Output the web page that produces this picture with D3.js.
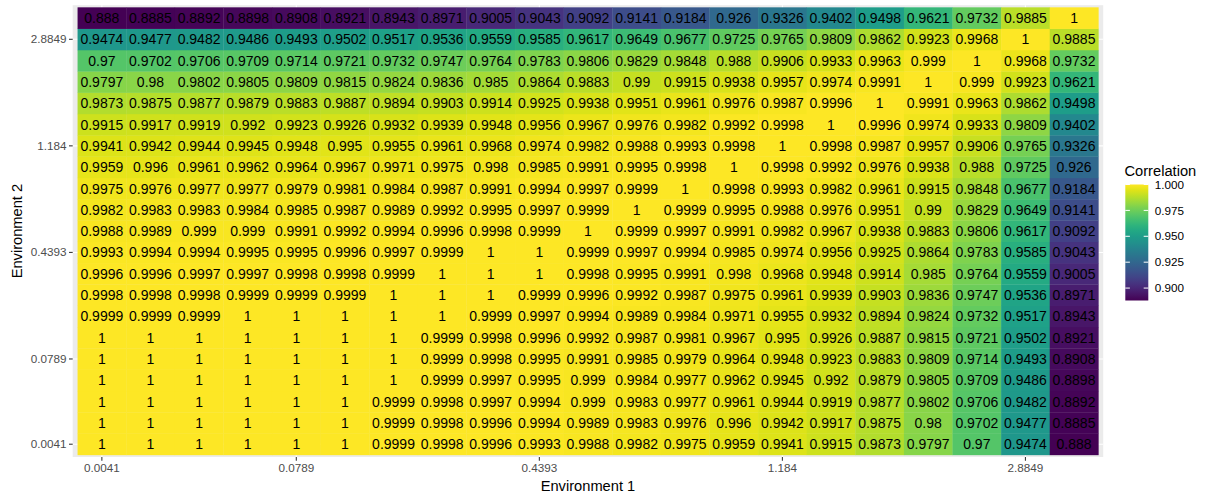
<!DOCTYPE html>
<html>
<head>
<meta charset="utf-8">
<script src="https://cdn.jsdelivr.net/npm/d3@7"></script>
<style>
  html, body { margin: 0; padding: 0; background: #ffffff; }
  svg { display: block; }
</style>
</head>
<body>
<svg id="chart" width="1205" height="498"></svg>
<script>
// Category levels (index of environment grid, bottom/left = 0)
const levels = [0,1,2,3,4,5,6,7,8,9,10,11,12,13,14,15,16,17,18,19,20];
const tickIdx = [0, 4, 9, 14, 19];
const tickLabels = ["0.0041", "0.0789", "0.4393", "1.184", "2.8849"];
const legendBreaks = [0.900, 0.925, 0.950, 0.975, 1.000];

// Correlation rows, listed from top (Environment 2 index 20) to bottom (index 0)
const row20 = [0.888,0.8885,0.8892,0.8898,0.8908,0.8921,0.8943,0.8971,0.9005,0.9043,0.9092,0.9141,0.9184,0.926,0.9326,0.9402,0.9498,0.9621,0.9732,0.9885,1];
const row19 = [0.9474,0.9477,0.9482,0.9486,0.9493,0.9502,0.9517,0.9536,0.9559,0.9585,0.9617,0.9649,0.9677,0.9725,0.9765,0.9809,0.9862,0.9923,0.9968,1,0.9885];
const row18 = [0.97,0.9702,0.9706,0.9709,0.9714,0.9721,0.9732,0.9747,0.9764,0.9783,0.9806,0.9829,0.9848,0.988,0.9906,0.9933,0.9963,0.999,1,0.9968,0.9732];
const row17 = [0.9797,0.98,0.9802,0.9805,0.9809,0.9815,0.9824,0.9836,0.985,0.9864,0.9883,0.99,0.9915,0.9938,0.9957,0.9974,0.9991,1,0.999,0.9923,0.9621];
const row16 = [0.9873,0.9875,0.9877,0.9879,0.9883,0.9887,0.9894,0.9903,0.9914,0.9925,0.9938,0.9951,0.9961,0.9976,0.9987,0.9996,1,0.9991,0.9963,0.9862,0.9498];
const row15 = [0.9915,0.9917,0.9919,0.992,0.9923,0.9926,0.9932,0.9939,0.9948,0.9956,0.9967,0.9976,0.9982,0.9992,0.9998,1,0.9996,0.9974,0.9933,0.9809,0.9402];
const row14 = [0.9941,0.9942,0.9944,0.9945,0.9948,0.995,0.9955,0.9961,0.9968,0.9974,0.9982,0.9988,0.9993,0.9998,1,0.9998,0.9987,0.9957,0.9906,0.9765,0.9326];
const row13 = [0.9959,0.996,0.9961,0.9962,0.9964,0.9967,0.9971,0.9975,0.998,0.9985,0.9991,0.9995,0.9998,1,0.9998,0.9992,0.9976,0.9938,0.988,0.9725,0.926];
const row12 = [0.9975,0.9976,0.9977,0.9977,0.9979,0.9981,0.9984,0.9987,0.9991,0.9994,0.9997,0.9999,1,0.9998,0.9993,0.9982,0.9961,0.9915,0.9848,0.9677,0.9184];
const row11 = [0.9982,0.9983,0.9983,0.9984,0.9985,0.9987,0.9989,0.9992,0.9995,0.9997,0.9999,1,0.9999,0.9995,0.9988,0.9976,0.9951,0.99,0.9829,0.9649,0.9141];
const row10 = [0.9988,0.9989,0.999,0.999,0.9991,0.9992,0.9994,0.9996,0.9998,0.9999,1,0.9999,0.9997,0.9991,0.9982,0.9967,0.9938,0.9883,0.9806,0.9617,0.9092];
const row9  = [0.9993,0.9994,0.9994,0.9995,0.9995,0.9996,0.9997,0.9999,1,1,0.9999,0.9997,0.9994,0.9985,0.9974,0.9956,0.9925,0.9864,0.9783,0.9585,0.9043];
const row8  = [0.9996,0.9996,0.9997,0.9997,0.9998,0.9998,0.9999,1,1,1,0.9998,0.9995,0.9991,0.998,0.9968,0.9948,0.9914,0.985,0.9764,0.9559,0.9005];
const row7  = [0.9998,0.9998,0.9998,0.9999,0.9999,0.9999,1,1,1,0.9999,0.9996,0.9992,0.9987,0.9975,0.9961,0.9939,0.9903,0.9836,0.9747,0.9536,0.8971];
const row6  = [0.9999,0.9999,0.9999,1,1,1,1,1,0.9999,0.9997,0.9994,0.9989,0.9984,0.9971,0.9955,0.9932,0.9894,0.9824,0.9732,0.9517,0.8943];
const row5  = [1,1,1,1,1,1,1,0.9999,0.9998,0.9996,0.9992,0.9987,0.9981,0.9967,0.995,0.9926,0.9887,0.9815,0.9721,0.9502,0.8921];
const row4  = [1,1,1,1,1,1,1,0.9999,0.9998,0.9995,0.9991,0.9985,0.9979,0.9964,0.9948,0.9923,0.9883,0.9809,0.9714,0.9493,0.8908];
const row3  = [1,1,1,1,1,1,1,0.9999,0.9997,0.9995,0.999,0.9984,0.9977,0.9962,0.9945,0.992,0.9879,0.9805,0.9709,0.9486,0.8898];
const row2  = [1,1,1,1,1,1,0.9999,0.9998,0.9997,0.9994,0.999,0.9983,0.9977,0.9961,0.9944,0.9919,0.9877,0.9802,0.9706,0.9482,0.8892];
const row1  = [1,1,1,1,1,1,0.9999,0.9998,0.9996,0.9994,0.9989,0.9983,0.9976,0.996,0.9942,0.9917,0.9875,0.98,0.9702,0.9477,0.8885];
const row0  = [1,1,1,1,1,1,0.9999,0.9998,0.9996,0.9993,0.9988,0.9982,0.9975,0.9959,0.9941,0.9915,0.9873,0.9797,0.97,0.9474,0.888];

const rowsBottomUp = [row0,row1,row2,row3,row4,row5,row6,row7,row8,row9,row10,row11,row12,row13,row14,row15,row16,row17,row18,row19,row20];

const cells = [];
rowsBottomUp.forEach((row, yi) => row.forEach((v, xi) => cells.push({x: levels[xi], y: levels[yi], v})));

const svg = d3.select("#chart");
const font = "'Liberation Sans', Arial, Helvetica, sans-serif";

// panel geometry
const pL = 72.7, pR = 1103.2, pT = 5.2, pB = 457;
const unitX = (pR - pL) / (levels.length + 0.2);
const unitY = (pB - pT) / (levels.length + 0.2);

const x = d3.scaleBand().domain(levels).range([pL + 0.1 * unitX, pR - 0.1 * unitX]).padding(0);
const y = d3.scaleBand().domain(levels).range([pB - 0.1 * unitY, pT + 0.1 * unitY]).padding(0);

const vmin = d3.min(cells, d => d.v), vmax = d3.max(cells, d => d.v);
const color = d3.scaleSequential(d3.interpolateViridis).domain([vmin, vmax]);

// panel background
svg.append("rect").attr("x", pL).attr("y", pT).attr("width", pR - pL).attr("height", pB - pT).attr("fill", "#EBEBEB");

// grid lines
const grid = svg.append("g");
tickIdx.forEach(i => {
  grid.append("line").attr("x1", x(i) + x.bandwidth()/2).attr("x2", x(i) + x.bandwidth()/2)
    .attr("y1", pT).attr("y2", pB).attr("stroke", "#fff").attr("stroke-width", 1.07);
  grid.append("line").attr("y1", y(i) + y.bandwidth()/2).attr("y2", y(i) + y.bandwidth()/2)
    .attr("x1", pL).attr("x2", pR).attr("stroke", "#fff").attr("stroke-width", 1.07);
});

// tiles
svg.append("g").selectAll("rect").data(cells).join("rect")
  .attr("x", d => x(d.x)).attr("y", d => y(d.y))
  .attr("width", x.bandwidth() + 0.3).attr("height", y.bandwidth() + 0.3)
  .attr("fill", d => color(d.v));

// labels
svg.append("g").selectAll("text").data(cells).join("text")
  .attr("x", d => x(d.x) + x.bandwidth()/2)
  .attr("y", d => y(d.y) + y.bandwidth()/2)
  .attr("dy", "0.36em")
  .attr("text-anchor", "middle")
  .attr("font-family", font).attr("font-size", "14px").attr("fill", "#000")
  .text(d => String(d.v));

// axes
const fmt = i => tickLabels[tickIdx.indexOf(i)];
const xAxis = svg.append("g").attr("transform", `translate(0,${pB})`)
  .call(d3.axisBottom(x).tickValues(tickIdx).tickFormat(fmt).tickSize(3.7).tickPadding(2.5));
const yAxis = svg.append("g").attr("transform", `translate(${pL},0)`)
  .call(d3.axisLeft(y).tickValues(tickIdx).tickFormat(fmt).tickSize(3.7).tickPadding(2.5));
[xAxis, yAxis].forEach(a => {
  a.select(".domain").remove();
  a.selectAll(".tick line").attr("stroke", "#333333").attr("stroke-width", 1.07);
  a.selectAll(".tick text").attr("fill", "#4D4D4D").attr("font-family", font).attr("font-size", "11.7px");
});

// axis titles
svg.append("text").attr("x", (pL + pR) / 2).attr("y", 491)
  .attr("text-anchor", "middle").attr("font-family", font).attr("font-size", "14.67px").attr("fill", "#000")
  .text("Environment 1");
svg.append("text").attr("transform", `translate(22,${(pT + pB) / 2}) rotate(-90)`)
  .attr("text-anchor", "middle").attr("font-family", font).attr("font-size", "14.67px").attr("fill", "#000")
  .text("Environment 2");

// legend
const lgX = 1125.3, lgW = 23, lgTop = 184.5, lgH = 116;
svg.append("text").attr("x", 1124.5).attr("y", 175.5)
  .attr("font-family", font).attr("font-size", "14.67px").attr("fill", "#000").text("Correlation");
const ly = d3.scaleLinear().domain([vmin, vmax]).range([lgTop + lgH, lgTop]);
const defs = svg.append("defs");
const grad = defs.append("linearGradient").attr("id", "lg").attr("x1", 0).attr("x2", 0).attr("y1", 1).attr("y2", 0);
d3.range(0, 1.0001, 0.05).forEach(t => {
  grad.append("stop").attr("offset", t).attr("stop-color", d3.interpolateViridis(t));
});
svg.append("rect").attr("x", lgX).attr("y", lgTop).attr("width", lgW).attr("height", lgH).attr("fill", "url(#lg)");
const lg = svg.append("g");
legendBreaks.forEach(b => {
  const yy = ly(b);
  lg.append("line").attr("x1", lgX).attr("x2", lgX + lgW * 0.2).attr("y1", yy).attr("y2", yy).attr("stroke", "#fff").attr("stroke-width", 1);
  lg.append("line").attr("x1", lgX + lgW * 0.8).attr("x2", lgX + lgW).attr("y1", yy).attr("y2", yy).attr("stroke", "#fff").attr("stroke-width", 1);
  lg.append("text").attr("x", lgX + lgW + 6.5).attr("y", yy).attr("dy", "0.36em")
    .attr("font-family", font).attr("font-size", "11.7px").attr("fill", "#000").text(b.toFixed(3));
});
</script>
</body>
</html>
